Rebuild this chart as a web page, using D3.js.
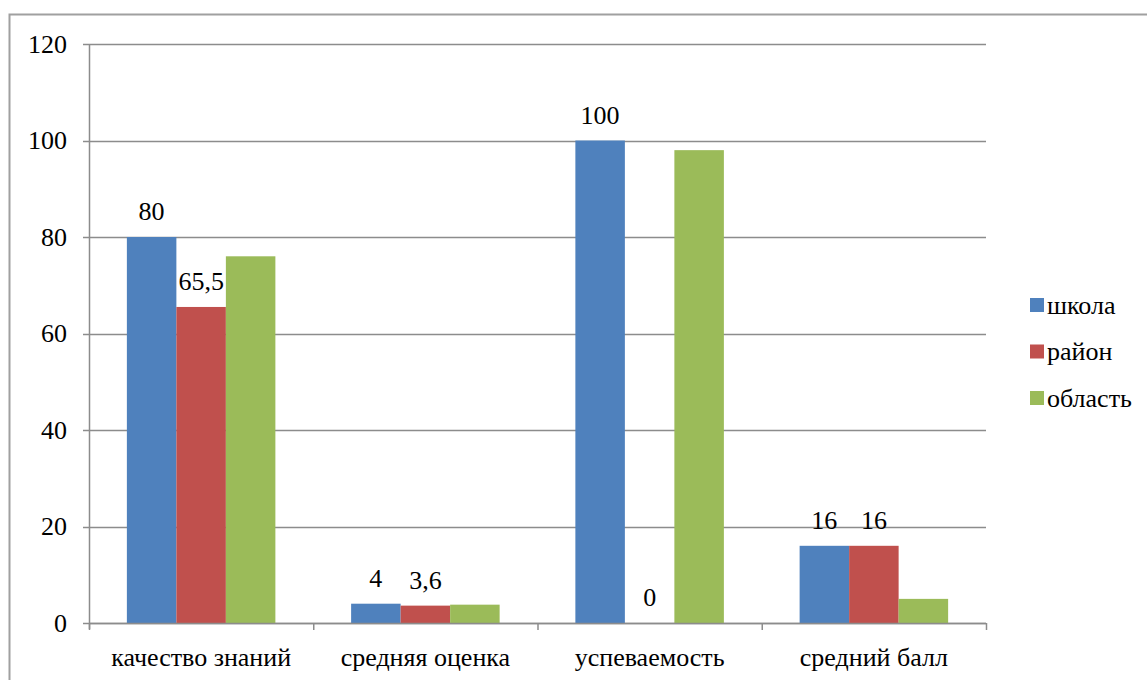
<!DOCTYPE html>
<html>
<head>
<meta charset="utf-8">
<script src="https://cdn.jsdelivr.net/npm/d3@7"></script>
</head>
<body style="margin:0">
<svg id="grades" width="1147" height="680"></svg>
<script>
const categories = ['качество знаний', 'средняя оценка', 'успеваемость', 'средний балл'];
const seriesNames = ['школа', 'район', 'область'];
const school = [80, 4, 100, 16];
const district = [65.5, 3.6, 0, 16];
const region = [76, 3.8, 98, 5];
const schoolLabels = ['80', '4', '100', '16'];
const districtLabels = ['65,5', '3,6', '0', '16'];
const yTicks = [0, 20, 40, 60, 80, 100, 120];
const colors = ['#4f81bd', '#c0504d', '#9bbb59'];

const svg = d3.select('#grades');
const values = [school, district, region];
const labels = [schoolLabels, districtLabels, null];

function serif(sel) {
    return sel.attr('font-family', 'Liberation Serif')
        .attr('font-size', 26)
        .style('font-family', d => '"Liberation Serif"')
        .style('fill', '#000');
}

// outer frame
svg.append('rect')
    .attr('x', 9.5).attr('y', 14.5)
    .attr('width', 1150).attr('height', 700)
    .style('fill', 'none')
    .style('stroke', '#a0a0a0')
    .style('stroke-width', 2);

const plotLeft = 89, plotRight = 986, plotTop = 44, plotBottom = 623;

const y = d3.scaleLinear().domain([0, 120]).range([plotBottom, plotTop]);
const x0 = d3.scaleBand().domain(categories).range([plotLeft, plotRight]).paddingInner(0).paddingOuter(0);
const x1 = d3.scaleBand().domain(seriesNames).range([0, x0.bandwidth()]).paddingInner(0).paddingOuter(0.765);

// gridlines with tick stubs
svg.append('g').selectAll('line')
    .data(yTicks)
    .join('line')
    .attr('x1', plotLeft - 6)
    .attr('x2', plotRight)
    .attr('y1', d => Math.round(y(d)) + 0.5)
    .attr('y2', d => Math.round(y(d)) + 0.5)
    .style('stroke', '#8c8c8c')
    .style('stroke-width', 1.5);

svg.append('g').selectAll('text')
    .data(yTicks)
    .join('text')
    .attr('x', 67)
    .attr('y', d => y(d))
    .attr('dy', '0.33em')
    .attr('text-anchor', 'end')
    .call(serif)
    .text(d => d);

// bars
seriesNames.forEach((s, i) => {
    svg.append('g').selectAll('rect')
        .data(categories)
        .join('rect')
        .attr('x', d => x0(d) + x1(s))
        .attr('y', (d, j) => y(values[i][j]))
        .attr('width', x1.bandwidth())
        .attr('height', (d, j) => plotBottom - y(values[i][j]))
        .style('fill', colors[i]);

    if (labels[i]) {
        svg.append('g').selectAll('text')
            .data(categories)
            .join('text')
            .attr('x', d => x0(d) + x1(s) + x1.bandwidth() / 2)
            .attr('y', (d, j) => y(values[i][j]) - 17)
            .attr('text-anchor', 'middle')
            .call(serif)
            .text((d, j) => labels[i][j]);
    }
});

// y axis line
svg.append('line')
    .attr('x1', plotLeft + 0.5).attr('x2', plotLeft + 0.5)
    .attr('y1', plotTop).attr('y2', plotBottom + 6)
    .style('stroke', '#8c8c8c')
    .style('stroke-width', 1.5);

// x axis with category boundary ticks
svg.append('line')
    .attr('x1', plotLeft).attr('x2', plotRight)
    .attr('y1', plotBottom + 0.5).attr('y2', plotBottom + 0.5)
    .style('stroke', '#8c8c8c')
    .style('stroke-width', 1.5);

const boundaries = categories.map(d => x0(d)).concat([plotRight]);
svg.append('g').selectAll('line')
    .data(boundaries)
    .join('line')
    .attr('x1', d => d + 0.5).attr('x2', d => d + 0.5)
    .attr('y1', plotBottom).attr('y2', plotBottom + 7)
    .style('stroke', '#8c8c8c')
    .style('stroke-width', 1.5);

svg.append('g').selectAll('text')
    .data(categories)
    .join('text')
    .attr('x', d => x0(d) + x0.bandwidth() / 2)
    .attr('y', 666)
    .attr('text-anchor', 'middle')
    .call(serif)
    .text(d => d);

// legend
const legend = svg.append('g').selectAll('g')
    .data(seriesNames)
    .join('g')
    .attr('transform', (d, i) => `translate(1030, ${305 + i * 46.5})`);

legend.append('rect')
    .attr('x', 0).attr('y', -7)
    .attr('width', 14).attr('height', 14)
    .style('fill', (d, i) => colors[i]);

legend.append('text')
    .attr('x', 17)
    .attr('y', 0)
    .attr('dy', '0.33em')
    .call(serif)
    .text(d => d);
</script>
</body>
</html>
